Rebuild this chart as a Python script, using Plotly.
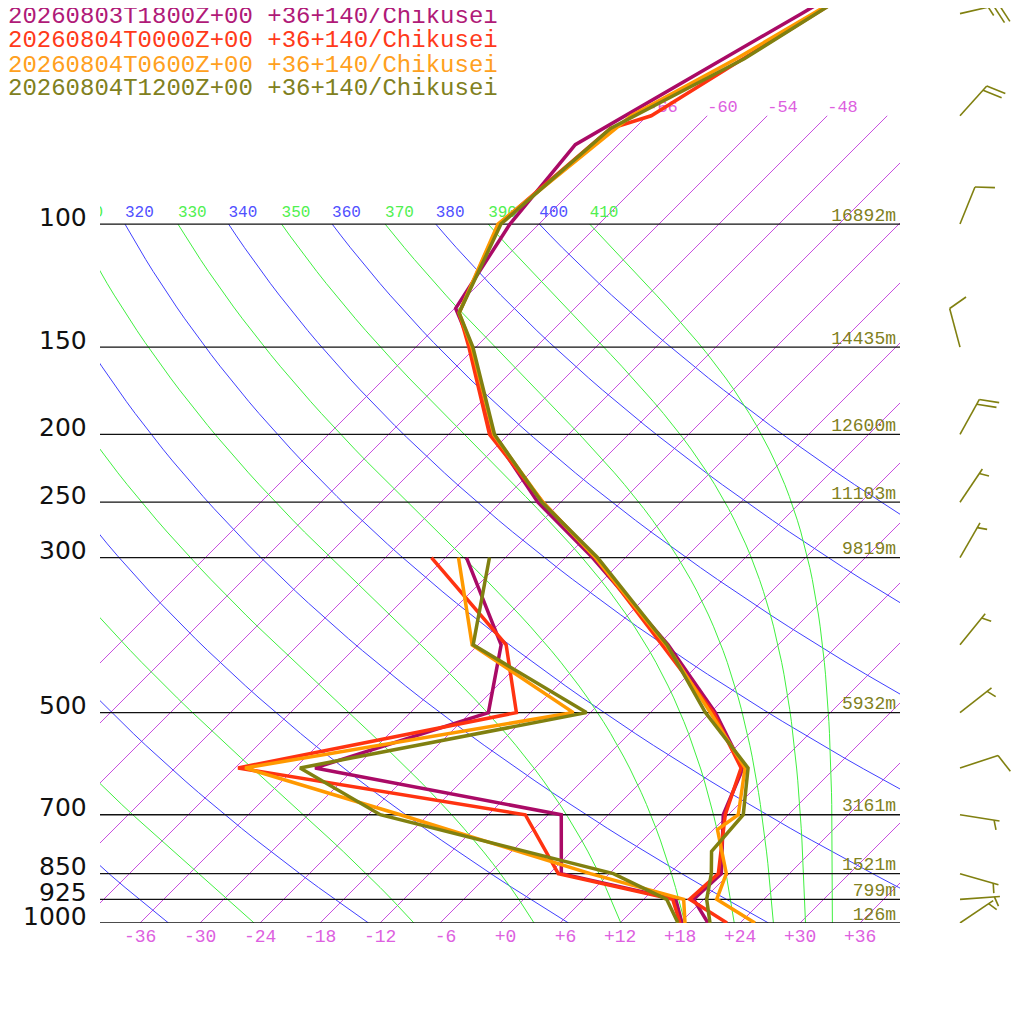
import numpy as np
import plotly.graph_objects as go

# --- sounding values (hPa / degC) ---
runs = ["20260803T1800Z+00", "20260804T0000Z+00", "20260804T0600Z+00", "20260804T1200Z+00"]
station = "+36+140/Chikusei"
line_colors = ["#aa0a66", "#ff3311", "#ff9900", "#808010"]
text_colors = ["#b01a78", "#ff3a1a", "#ffa020", "#808020"]

p_t18 = [1000, 925, 850, 700, 600, 500, 400, 300, 250, 200, 150, 132, 100, 77, 50, 45]
t_t18 = [20.8, 17.0, 17.2, 11.5, 8.8, 0.5, -11.0, -27.3, -38.3, -49.6, -60.4, -65.9, -68.9, -70.3, -60.8, -58.5]
p_t00 = [1000, 925, 850, 700, 600, 500, 400, 300, 250, 200, 150, 134, 100, 73, 70, 57, 45]
t_t00 = [22.7, 16.6, 16.9, 11.7, 8.6, 0.3, -11.6, -27.0, -37.8, -49.9, -60.7, -65.1, -70.0, -68.4, -65.6, -61.8, -57.4]
p_t06 = [1000, 925, 850, 735, 700, 600, 500, 400, 300, 250, 200, 150, 134, 100, 70, 58, 45]
t_t06 = [25.5, 19.3, 17.7, 12.4, 13.0, 9.0, 0.0, -11.2, -27.0, -37.8, -49.5, -60.4, -65.1, -70.1, -67.6, -62.8, -57.4]
p_t12 = [1000, 925, 850, 790, 700, 600, 500, 400, 300, 250, 200, 150, 134, 100, 73, 58, 45]
t_t12 = [21.0, 18.3, 16.2, 14.0, 13.5, 9.3, -0.5, -11.1, -26.8, -37.9, -49.4, -60.3, -65.1, -69.8, -68.4, -62.0, -57.4]

p_td = [1000, 925, 850, 700, 600, 500, 400, 300]
td_18 = [18.2, 15.2, 1.2, -4.7, -34.0, -22.2, -27.7, -39.9]
td_00 = [18.0, 14.9, 0.9, -8.3, -41.7, -19.4, -27.2, -43.4]
td_06 = [18.5, 16.0, 4.1, -20.8, -41.0, -13.7, -30.6, -40.7]
td_12 = [17.8, 14.3, 6.4, -22.8, -35.5, -12.4, -30.5, -37.6]

wind_p = [1000, 925, 850, 700, 600, 500, 400, 300, 250, 200, 150, 100, 70, 50]
wind_dir = [56, 86, 106, 99, 72, 52, 39, 30, 34, 29, 345, 22, 42, 77]
wind_spd = [5, 5, 5, 5, 10, 5, 5, 5, 5, 20, 10, 10, 20, 25]

std_p = [1000, 925, 850, 700, 500, 300, 250, 200, 150, 100]
std_lbl = ["1000", "925", "850", "700", "500", "300", "250", "200", "150", "100"]
std_hgt = ["126m", "799m", "1521m", "3161m", "5932m", "9819m", "11103m", "12600m", "14435m", "16892m"]

isotherms = list(range(-66, 37, 6))
iso_labels = [-66, -60, -54, -48]
dry_thetas = list(range(220, 401, 20))
moist_thetas = list(range(230, 411, 20))
bot_t = list(range(-36, 37, 6))

# --- page geometry (page pixels; page body has an 8px margin) ---
OFF, FIG = 8, 1016
X0, X1, YB, YT = 100, 900, 923, 8          # plot box on the page
T_LO, T_HI = -40, 40
PX_LN = 303.55                               # pixels per ln(p)
P_TOP = 1000 * np.exp(-(YB - YT) / PX_LN)
SKEW = PX_LN / ((X1 - X0) / (T_HI - T_LO))   # 45 degree isotherms


def fx(px):
    return (px - OFF) / FIG


def fy(py):
    return 1 - (py - OFF) / FIG


def skx(t, p):
    return np.asarray(t, float) + SKEW * np.log(1000.0 / np.asarray(p, float))


def theta_e_sat(tk, p):
    tc = tk - 273.15
    es = 6.112 * np.exp(17.67 * tc / (tc + 243.5))
    ok = es < 0.5 * p
    r = np.where(ok, 622.0 * es / np.maximum(p - es, 1e-3), 0.0)
    th = tk * (1000.0 / p) ** (0.2854 * (1 - 0.00028 * r))
    the = th * np.exp((3.376 / tk - 0.00254) * r * (1 + 0.00081 * r))
    return np.where(ok, the, 1e9)


def moist_t(the, p):
    lo = np.full_like(p, 150.0)
    hi = np.full_like(p, 330.0)
    for _ in range(50):
        mid = 0.5 * (lo + hi)
        up = theta_e_sat(mid, p) > the
        hi = np.where(up, mid, hi)
        lo = np.where(up, lo, mid)
    return 0.5 * (lo + hi) - 273.15


def joined(lines):
    xs, ys = [], []
    for x, y in lines:
        xs += list(x) + [None]
        ys += list(y) + [None]
    return xs, ys


fig = go.Figure()

# isotherms
xs, ys = joined([(skx([t, t], [1000, 70]), [1000, 70]) for t in isotherms])
fig.add_trace(go.Scatter(x=xs, y=ys, mode="lines", line=dict(color="#c84ee0", width=1), hoverinfo="skip"))

pp = np.geomspace(1000, 100, 60)
# dry adiabats
xs, ys = joined([(skx(th * (pp / 1000) ** 0.2857 - 273.15, pp), pp) for th in dry_thetas])
fig.add_trace(go.Scatter(x=xs, y=ys, mode="lines", line=dict(color="#4040ff", width=1), hoverinfo="skip"))
# moist adiabats
xs, ys = joined([(skx(moist_t(th, pp), pp), pp) for th in moist_thetas])
fig.add_trace(go.Scatter(x=xs, y=ys, mode="lines", line=dict(color="#40f040", width=1), hoverinfo="skip"))

# isobars
xs, ys = joined([([T_LO, T_HI], [p, p]) for p in std_p])
fig.add_trace(go.Scatter(x=xs, y=ys, mode="lines", line=dict(color="#111111", width=1.3), hoverinfo="skip"))

mono = "Liberation Mono, Courier New, monospace"
lab_p = 100 * np.exp(-11 / PX_LN)
p100 = np.array([100.0])
# theta labels along 100 hPa (only where the line reaches the box)
for th in dry_thetas:
    x0 = float(skx(th * 0.1 ** 0.2857 - 273.15, 100))
    if x0 > T_LO - 4:
        fig.add_trace(go.Scatter(x=[x0], y=[lab_p], mode="text", text=[str(th)], textposition="middle right",
                                 textfont=dict(family=mono, size=16, color="#5050ff"), cliponaxis=True,
                                 hoverinfo="skip"))
for th in moist_thetas:
    x0 = float(skx(moist_t(th, p100), p100)[0])
    if x0 > T_LO - 4:
        fig.add_trace(go.Scatter(x=[x0], y=[lab_p], mode="text", text=[str(th)], textposition="middle right",
                                 textfont=dict(family=mono, size=16, color="#50f050"), cliponaxis=True,
                                 hoverinfo="skip"))
# isotherm labels at the top
fig.add_trace(go.Scatter(x=skx(iso_labels, [70] * len(iso_labels)), y=[70] * len(iso_labels), mode="text",
                         text=["%d" % t for t in iso_labels], textposition="top right",
                         textfont=dict(family=mono, size=17, color="#dd60e0"), hoverinfo="skip"))
# heights (right)
fig.add_trace(go.Scatter(x=[T_HI - 0.4] * len(std_p), y=[p * np.exp(-8 / PX_LN) for p in std_p], mode="text",
                         text=std_hgt, textposition="middle left",
                         textfont=dict(family=mono, size=18, color="#808020"), hoverinfo="skip"))

# profiles
temps = [(p_t18, t_t18), (p_t00, t_t00), (p_t06, t_t06), (p_t12, t_t12)]
dews = [td_18, td_00, td_06, td_12]
for (pt, tt), td, col in zip(temps, dews, line_colors):
    fig.add_trace(go.Scatter(x=skx(tt, pt), y=pt, mode="lines", line=dict(color=col, width=3.5), hoverinfo="skip"))
    fig.add_trace(go.Scatter(x=skx(td, p_td), y=p_td, mode="lines", line=dict(color=col, width=3.5),
                             hoverinfo="skip"))

# wind barbs in the right strip (x2 runs in page pixels)
SHAFT, FULL, HALF, GAP, ANG, BASE_X = 40, 20, 10, 5.5, np.radians(70), 960
bx, by = [], []
for p, d, s in zip(wind_p, wind_dir, wind_spd):
    a = np.radians(d)
    ux, uy = np.sin(a), -np.cos(a)
    vx = ux * np.cos(ANG) - uy * np.sin(ANG)
    vy = ux * np.sin(ANG) + uy * np.cos(ANG)

    def seg(x0, y0, x1, y1):
        bx.extend([BASE_X + x0, BASE_X + x1, None])
        by.extend([p * np.exp(y0 / PX_LN), p * np.exp(y1 / PX_LN), None])

    seg(0, 0, SHAFT * ux, SHAFT * uy)
    pos = SHAFT
    nfull, half = s // 10, s % 10 >= 5
    if nfull == 0:
        pos -= GAP
    for _ in range(nfull):
        seg(pos * ux, pos * uy, pos * ux + FULL * vx, pos * uy + FULL * vy)
        pos -= GAP
    if half:
        seg(pos * ux, pos * uy, pos * ux + HALF * vx, pos * uy + HALF * vy)
fig.add_trace(go.Scatter(x=bx, y=by, xaxis="x2", yaxis="y", mode="lines",
                         line=dict(color="#808010", width=1.6), hoverinfo="skip"))

# pressure labels (left) and temperature labels (bottom)
for p, t in zip(std_p, std_lbl):
    fig.add_annotation(x=fx(89), y=np.log10(p * np.exp(-7 / PX_LN)), xref="paper", yref="y",
                       xanchor="right", yanchor="middle", showarrow=False, text=t,
                       font=dict(family="DejaVu Sans", size=25, color="#111111"))
for t in bot_t:
    fig.add_annotation(x=t, y=fy(937), xref="x", yref="paper",
                       xanchor="center", yanchor="middle", showarrow=False,
                       text=("%+d" % t).rjust(3, "\u00a0"),
                       font=dict(family=mono, size=18, color="#dd60e0"))

for i, (r, c) in enumerate(zip(runs, text_colors)):
    fig.add_annotation(x=fx(6), y=fy(17 + 24 * i), xref="paper", yref="paper",
                       xanchor="left", yanchor="middle", showarrow=False,
                       text=r + " " + station, font=dict(family=mono, size=24, color=c))

fig.update_layout(
    width=FIG, height=FIG, margin=dict(l=0, r=0, t=0, b=0),
    paper_bgcolor="white", plot_bgcolor="white", showlegend=False,
    xaxis=dict(domain=[fx(X0), fx(X1)], range=[T_LO, T_HI], visible=False),
    yaxis=dict(domain=[fy(YB), fy(YT)], type="log", range=[3, np.log10(P_TOP)], visible=False),
    xaxis2=dict(domain=[fx(X1), 1], range=[X1, OFF + FIG], anchor="y", visible=False),
)
fig.write_html("out.html")
